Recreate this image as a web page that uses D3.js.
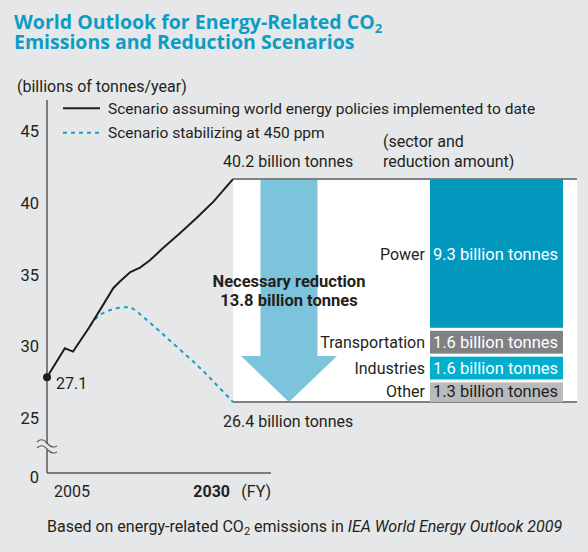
<!DOCTYPE html>
<html>
<head>
<meta charset="utf-8">
<script src="https://cdn.jsdelivr.net/npm/d3@7"></script>
<style>
	body { margin: 0; background: #e6e7e9; }
	svg { display: block; font-family: "Liberation Sans Narrow", "Roboto", sans-serif; }
</style>
</head>
<body>
<div id="chart"></div>
<script>
// emissions path (billions of tonnes / year)
const bauYears = [2005, 2007.4, 2008.5, 2010.6, 2012.4, 2013.9, 2014.8, 2016.2, 2017.5, 2018.8, 2020.6, 2022.9, 2025.1, 2027.4, 2030];
const bauValues = [27.85, 29.87, 29.64, 31.27, 32.78, 34.07, 34.53, 35.19, 35.51, 36.0, 36.87, 37.92, 38.97, 40.13, 41.69];
const scnYears = [2010.8, 2012.1, 2013.9, 2015.7, 2016.4, 2017.9, 2020.2, 2022.9, 2025.6, 2027.8, 2030];
const scnValues = [31.43, 32.2, 32.6, 32.74, 32.67, 32.08, 31.03, 29.76, 28.48, 27.31, 26.12];

const yTicks = [0, 25, 30, 35, 40, 45];
const xTicks = [2005, 2030];

const sectors = ["Power", "Transportation", "Industries", "Other"];
const reductions = [9.3, 1.6, 1.6, 1.3];
const sectorColors = ["#0399bf", "#808184", "#02aece", "#b9babc"];
const sectorTextColors = ["#fff", "#fff", "#fff", "#231f20"];

const startLabel = 27.1;
const bauEnd = 40.2;
const scnEnd = 26.4;

let width = 588;
let height = 552;
let textColor = "#231f20";
let axisColor = "#58595b";
let blue = "#0e9bc4";

var svg = d3.select("#chart")
	.append("svg")
	.attr("width", width)
	.attr("height", height);

// title (one text, two lines)
var title = svg.append("text")
	.attr("fill", blue)
	.style("font-family", "'Open Sans', sans-serif")
	.style("font-weight", "bold")
	.style("font-size", "19.5px");
title.append("tspan").attr("x", 14).attr("y", 29).text("World Outlook for Energy-Related CO");
title.append("tspan").attr("dy", 4).style("font-size", "13px").text("2");
title.append("tspan").attr("x", 14).attr("y", 48.5).text("Emissions and Reduction Scenarios");

// scales: axis is broken between 0 and 25
var x = d3.scaleLinear().domain([2005, 2030]).range([47, 233]);
var y = d3.scaleLinear().domain([0, 25, 45]).range([473, 418, 131.7]);

svg.append("text")
	.attr("x", 17)
	.attr("y", 86)
	.attr("dy", "0.35em")
	.attr("fill", textColor)
	.style("font-size", "16px")
	.text("(billions of tonnes/year)");

// axes
svg.append("line")
	.attr("x1", x(2005)).attr("x2", x(2005))
	.attr("y1", 100).attr("y2", y(0))
	.attr("stroke", axisColor).attr("stroke-width", 1.5);
svg.append("line")
	.attr("x1", x(2005)).attr("x2", 271)
	.attr("y1", y(0)).attr("y2", y(0))
	.attr("stroke", axisColor).attr("stroke-width", 1.5);

svg.selectAll(".ytick")
	.data(yTicks)
	.enter()
	.append("text")
	.attr("class", "ytick")
	.attr("x", x(2005) - 8)
	.attr("y", function (d) {
		return d === 0 ? y(d) + 4 : y(d);
	})
	.attr("dy", "0.35em")
	.attr("text-anchor", "end")
	.attr("fill", textColor)
	.style("font-size", "16.5px")
	.text(function (d) { return d; });

svg.selectAll(".xtick")
	.data(xTicks)
	.enter()
	.append("text")
	.attr("class", "xtick")
	.attr("x", function (d, i) {
		return i === 0 ? x(d) + 7 : x(d) - 3;
	})
	.attr("y", 491)
	.attr("dy", "0.35em")
	.attr("text-anchor", function (d, i) { return i === 0 ? "start" : "end"; })
	.attr("fill", textColor)
	.style("font-size", "16px")
	.style("font-weight", function (d, i) { return i === 0 ? "normal" : "bold"; })
	.text(function (d) { return d; });
svg.append("text")
	.attr("x", 271)
	.attr("y", 491)
	.attr("dy", "0.35em")
	.attr("text-anchor", "end")
	.attr("fill", textColor)
	.style("font-size", "16px")
	.text("(FY)");

// axis break mark
var breakY = 446;
svg.append("path")
	.attr("d", "M36," + (breakY - 5) + "L58," + (breakY + 1) + "L58," + (breakY + 7) + "L36," + (breakY + 1) + "Z")
	.attr("fill", "#e6e7e9");
[0, 6].forEach(function (off) {
	svg.append("path")
		.attr("d", "M37," + (breakY - 4 + off) + "q5,-5 10,1 t10,3")
		.attr("fill", "none")
		.attr("stroke", axisColor)
		.attr("stroke-width", 1.2);
});

// legend
var legend = svg.append("g");
[
	{ label: "Scenario assuming world energy policies implemented to date", dash: null, color: textColor, yy: 108.3 },
	{ label: "Scenario stabilizing at 450 ppm", dash: "4,4", color: "#1a9fc5", yy: 132.7 },
].forEach(function (d) {
	legend.append("line")
		.attr("x1", 63).attr("x2", 100)
		.attr("y1", d.yy).attr("y2", d.yy)
		.attr("stroke", d.color)
		.attr("stroke-width", 2)
		.attr("stroke-dasharray", d.dash);
	legend.append("text")
		.attr("x", 108)
		.attr("y", d.yy)
		.attr("dy", "0.35em")
		.attr("fill", textColor)
		.style("font-size", "15.5px")
		.text(d.label);
});

// reduction panel
var yR = d3.scaleLinear()
	.domain([scnEnd, bauEnd])
	.range([y(scnValues[scnValues.length - 1]), y(bauValues[bauValues.length - 1])]);
var panelLeft = x(2030);
var panelRight = 577;

svg.append("rect")
	.attr("x", panelLeft)
	.attr("y", yR(bauEnd))
	.attr("width", panelRight - panelLeft)
	.attr("height", yR(scnEnd) - yR(bauEnd))
	.attr("fill", "#fff");

// arrow
var ax = 289;
var shaftHalf = 28.5;
var headHalf = 48;
var headHeight = 46;
var arrowPath = d3.path();
arrowPath.moveTo(ax - shaftHalf, yR(bauEnd));
arrowPath.lineTo(ax + shaftHalf, yR(bauEnd));
arrowPath.lineTo(ax + shaftHalf, yR(scnEnd) - headHeight);
arrowPath.lineTo(ax + headHalf, yR(scnEnd) - headHeight);
arrowPath.lineTo(ax, yR(scnEnd));
arrowPath.lineTo(ax - headHalf, yR(scnEnd) - headHeight);
arrowPath.lineTo(ax - shaftHalf, yR(scnEnd) - headHeight);
arrowPath.closePath();
svg.append("path").attr("d", arrowPath.toString()).attr("fill", "#7cc3dc");

[bauEnd, scnEnd].forEach(function (v) {
	svg.append("line")
		.attr("x1", panelLeft).attr("x2", panelRight)
		.attr("y1", yR(v)).attr("y2", yR(v))
		.attr("stroke", "#808184")
		.attr("stroke-width", 2);
});

var midY = (yR(bauEnd) + yR(scnEnd)) / 2;
svg.append("text")
	.attr("x", ax)
	.attr("y", midY - 9.5)
	.attr("dy", "0.35em")
	.attr("text-anchor", "middle")
	.attr("fill", textColor)
	.style("font-size", "16.5px")
	.style("font-weight", "bold")
	.text("Necessary reduction");
svg.append("text")
	.attr("x", ax)
	.attr("y", midY + 9.5)
	.attr("dy", "0.35em")
	.attr("text-anchor", "middle")
	.attr("fill", textColor)
	.style("font-size", "16.5px")
	.style("font-weight", "bold")
	.text(d3.sum(reductions).toFixed(1) + " billion tonnes");

svg.append("text")
	.attr("x", panelLeft - 10)
	.attr("y", yR(bauEnd) - 18)
	.attr("dy", "0.35em")
	.attr("fill", textColor)
	.style("font-size", "16px")
	.text(bauEnd.toFixed(1) + " billion tonnes");
svg.append("text")
	.attr("x", panelLeft - 10)
	.attr("y", yR(scnEnd) + 19)
	.attr("dy", "0.35em")
	.attr("fill", textColor)
	.style("font-size", "16px")
	.text(scnEnd.toFixed(1) + " billion tonnes");

svg.append("text")
	.attr("x", 383)
	.attr("y", 141.7)
	.attr("dy", "0.35em")
	.attr("fill", textColor)
	.style("font-size", "16px")
	.text("(sector and");
svg.append("text")
	.attr("x", 383)
	.attr("y", 161.7)
	.attr("dy", "0.35em")
	.attr("fill", textColor)
	.style("font-size", "16px")
	.text("reduction amount)");

// sector bars, stacked down from the baseline level
var gap = 3;
var stack = [];
var level = bauEnd;
reductions.forEach(function (v, i) {
	stack.push({ name: sectors[i], value: v, upper: level, lower: level - v, i: i });
	level -= v;
});
var barLeft = 430;
var barRight = 563;

var bars = svg.selectAll(".bar")
	.data(stack)
	.enter()
	.append("g")
	.attr("class", "bar");
bars.append("rect")
	.attr("x", barLeft)
	.attr("y", function (d) { return yR(d.upper) + (d.i === 0 ? 0 : gap / 2); })
	.attr("width", barRight - barLeft)
	.attr("height", function (d) {
		var h = yR(d.lower) - yR(d.upper);
		if (d.i > 0) h -= gap / 2;
		if (d.i < stack.length - 1) h -= gap / 2;
		return h;
	})
	.attr("fill", function (d) { return sectorColors[d.i]; });
bars.append("text")
	.attr("x", barLeft + 3)
	.attr("y", function (d) { return (yR(d.upper) + yR(d.lower)) / 2; })
	.attr("dy", "0.35em")
	.attr("fill", function (d) { return sectorTextColors[d.i]; })
	.style("font-size", "16.5px")
	.text(function (d) { return d.value.toFixed(1) + " billion tonnes"; });
bars.append("text")
	.attr("x", barLeft - 5)
	.attr("y", function (d) { return (yR(d.upper) + yR(d.lower)) / 2; })
	.attr("dy", "0.35em")
	.attr("text-anchor", "end")
	.attr("fill", textColor)
	.style("font-size", "16px")
	.text(function (d) { return d.name; });

// lines
var line = d3.line()
	.x(function (d) { return x(d[0]); })
	.y(function (d) { return y(d[1]); });

svg.append("path")
	.attr("d", line.curve(d3.curveCatmullRom)(d3.zip(scnYears, scnValues)))
	.attr("fill", "none")
	.attr("stroke", "#1a9fc5")
	.attr("stroke-width", 2)
	.attr("stroke-dasharray", "4,4");

svg.append("path")
	.attr("d", line.curve(d3.curveLinear)(d3.zip(bauYears, bauValues)))
	.attr("fill", "none")
	.attr("stroke", "#1d1d1b")
	.attr("stroke-width", 2);

svg.append("circle")
	.attr("cx", x(bauYears[0]))
	.attr("cy", y(bauValues[0]))
	.attr("r", 4)
	.attr("fill", "#1d1d1b");
svg.append("text")
	.attr("x", 56)
	.attr("y", y(bauValues[0]) + 6)
	.attr("dy", "0.35em")
	.attr("fill", textColor)
	.style("font-size", "16px")
	.text(startLabel.toFixed(1));

// footnote
var note = svg.append("text")
	.attr("x", 47)
	.attr("y", 526.7)
	.attr("dy", "0.35em")
	.attr("fill", textColor)
	.style("font-size", "16px");
note.append("tspan").text("Based on energy-related CO");
note.append("tspan").attr("dy", 3).style("font-size", "11px").text("2");
note.append("tspan").attr("dy", -3).text(" emissions in ");
note.append("tspan").style("font-style", "italic").text("IEA World Energy Outlook 2009");
</script>
</body>
</html>
